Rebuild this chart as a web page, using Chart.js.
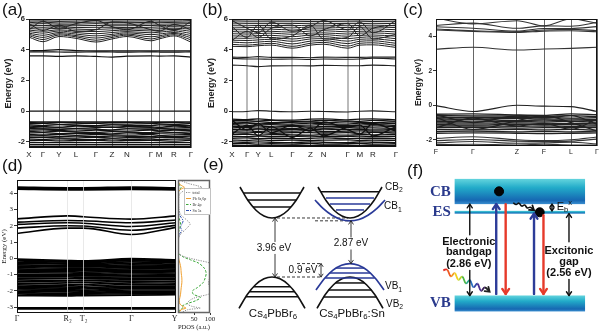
<!DOCTYPE html>
<html>
<head>
<meta charset="utf-8">
<script src="https://cdn.jsdelivr.net/npm/chart.js@4.4.1/dist/chart.umd.min.js"></script>
<style>
html,body{margin:0;padding:0;background:#fff}
body{position:relative;width:600px;height:332px;overflow:hidden}
canvas{position:absolute;display:block}
.tag{position:absolute;font:17px/17px 'Liberation Sans',Arial,sans-serif;color:#111}
</style>
</head>
<body>
<canvas id="ca" width="200" height="165" style="left:0;top:0"></canvas>
<canvas id="cb" width="200" height="165" style="left:200px;top:0"></canvas>
<canvas id="cc" width="200" height="165" style="left:400px;top:0"></canvas>
<canvas id="cd" width="178" height="167" style="left:0;top:165px"></canvas>
<canvas id="cp" width="40" height="167" style="left:176px;top:165px"></canvas>
<canvas id="ce" width="205" height="182" style="left:200px;top:150px"></canvas>
<canvas id="cf" width="200" height="182" style="left:400px;top:150px"></canvas>
<div class="tag" style="left:2px;top:1px">(a)</div>
<div class="tag" style="left:202px;top:1px">(b)</div>
<div class="tag" style="left:403px;top:1px">(c)</div>
<div class="tag" style="left:2px;top:157px">(d)</div>
<div class="tag" style="left:203px;top:156px">(e)</div>
<div class="tag" style="left:407px;top:162px">(f)</div>
<script>
const SANS = "'Liberation Sans', Arial, sans-serif";
const SERIF = "'Liberation Serif', 'Times New Roman', serif";
Chart.defaults.font.family = SANS;
Chart.defaults.animation = false;
Chart.defaults.events = [];
Chart.defaults.plugins.legend.display = false;
Chart.defaults.plugins.tooltip.enabled = false;

// ---------------- (a) Cs4PbBr6 band structure ----------------
const kA = [0, 14, 30, 47, 67, 83, 98, 122, 130, 145, 162];
const kLabelsA = ['X','Γ','Y','L','Γ','Z','N','Γ','M','R','Γ'];
const aUpper = [
  [4.82,4.52,4.86,4.74,4.50,4.70,4.86,4.58,4.70,4.90,4.50],
  [4.92,4.66,4.96,4.84,4.62,4.80,4.95,4.70,4.80,4.98,4.64],
  [5.00,4.80,5.04,4.92,4.76,4.90,5.02,4.84,4.90,5.06,4.78],
  [5.08,4.94,5.12,5.02,4.90,5.00,5.10,4.98,5.02,5.12,4.92],
  [5.18,5.08,5.22,5.12,5.04,5.12,5.18,5.10,5.14,5.22,5.06],
  [5.28,5.20,5.30,5.22,5.18,5.24,5.28,5.22,5.26,5.32,5.20],
  [5.38,5.34,5.40,5.34,5.32,5.36,5.36,5.34,5.36,5.40,5.34],
  [5.48,5.46,5.50,5.44,5.46,5.46,5.44,5.46,5.48,5.50,5.46],
  [5.58,5.58,5.56,5.56,5.58,5.56,5.56,5.58,5.56,5.60,5.58],
  [5.66,5.70,5.66,5.66,5.70,5.66,5.66,5.68,5.66,5.68,5.70],
  [5.76,5.80,5.74,5.76,5.80,5.76,5.76,5.78,5.76,5.78,5.80],
  [5.86,5.88,5.84,5.86,5.90,5.86,5.86,5.88,5.86,5.86,5.90],
  [5.95,5.96,5.94,5.95,5.98,5.95,5.95,5.96,5.95,5.95,5.98],
  [5.30,5.85,5.40,5.70,5.90,5.50,5.30,5.85,5.60,5.25,5.85],
  [5.70,5.25,5.60,5.20,5.30,5.80,5.75,5.30,5.20,5.65,5.30]
];
const aMid = [
  [3.93,3.95,4.00,3.94,3.92,3.93,3.92,3.93,3.92,3.93,3.92],
  [3.85,3.86,3.85,3.84,3.86,3.85,3.84,3.86,3.85,3.84,3.86],
  [3.60,3.60,3.57,3.60,3.56,3.52,3.58,3.60,3.58,3.60,3.52]
];
const aTop = [
  [0,0,0,0,0,0,0,0,0,0,0]
];
const aValence = [
  [-0.70,-0.70,-0.70,-0.70,-0.70,-0.70,-0.70,-0.70,-0.70,-0.70,-0.70],
  [-0.74,-0.76,-0.73,-0.75,-0.77,-0.74,-0.73,-0.76,-0.75,-0.74,-0.77],
  [-0.82,-0.80,-0.86,-0.83,-0.80,-0.85,-0.84,-0.81,-0.83,-0.86,-0.80],
  [-0.90,-0.94,-0.88,-0.92,-0.95,-0.90,-0.93,-0.95,-0.90,-0.92,-0.94],
  [-0.98,-1.00,-1.04,-0.97,-1.02,-1.05,-0.99,-1.02,-1.05,-0.98,-1.03],
  [-1.06,-1.10,-1.08,-1.12,-1.08,-1.04,-1.10,-1.08,-1.12,-1.10,-1.07],
  [-1.14,-1.16,-1.20,-1.15,-1.18,-1.22,-1.16,-1.18,-1.15,-1.20,-1.17],
  [-1.24,-1.22,-1.26,-1.30,-1.24,-1.28,-1.30,-1.24,-1.28,-1.24,-1.27],
  [-1.32,-1.36,-1.30,-1.36,-1.38,-1.34,-1.36,-1.40,-1.34,-1.38,-1.35],
  [-1.42,-1.40,-1.46,-1.44,-1.44,-1.48,-1.42,-1.46,-1.44,-1.42,-1.46],
  [-1.52,-1.55,-1.52,-1.58,-1.52,-1.54,-1.56,-1.52,-1.58,-1.54,-1.53],
  [-1.62,-1.60,-1.66,-1.62,-1.66,-1.62,-1.64,-1.66,-1.62,-1.66,-1.62],
  [-1.72,-1.70,-1.74,-1.76,-1.70,-1.76,-1.72,-1.74,-1.72,-1.70,-1.76],
  [-1.82,-1.84,-1.80,-1.84,-1.86,-1.80,-1.84,-1.82,-1.86,-1.82,-1.82],
  [-1.92,-1.90,-1.94,-1.92,-1.90,-1.94,-1.92,-1.90,-1.92,-1.95,-1.90]
];
const aDeep = [
  [-2.05,-2.05,-2.05,-2.05,-2.05,-2.05,-2.05,-2.05,-2.05,-2.05,-2.05],
  [-2.18,-2.18,-2.18,-2.18,-2.18,-2.18,-2.18,-2.18,-2.18,-2.18,-2.18],
  [-2.30,-2.30,-2.30,-2.30,-2.30,-2.30,-2.30,-2.30,-2.30,-2.30,-2.30]
];

// ---------------- (b) Cs4PbBr6:Sn band structure ----------------
const kB = [0, 15, 26, 39, 60, 78, 91, 115, 127, 140, 163];
const kLabelsB = ['X','Γ','Y','L','Γ','Z','N','Γ','M','R','Γ'];
const bUpper = [
  [4.22,4.20,4.26,4.30,4.10,4.30,4.36,4.10,4.30,4.32,4.15],
  [4.35,4.30,4.36,4.42,4.22,4.42,4.48,4.24,4.42,4.45,4.28],
  [4.50,4.45,4.50,4.55,4.38,4.56,4.60,4.40,4.55,4.58,4.42],
  [4.62,4.60,4.64,4.68,4.55,4.70,4.72,4.56,4.68,4.70,4.58],
  [4.76,4.74,4.78,4.80,4.70,4.82,4.85,4.72,4.80,4.84,4.72],
  [4.90,4.88,4.92,4.94,4.85,4.96,4.98,4.88,4.94,4.96,4.88],
  [5.04,5.02,5.05,5.08,5.00,5.08,5.10,5.02,5.08,5.10,5.02],
  [5.18,5.15,5.20,5.20,5.14,5.22,5.24,5.16,5.20,5.22,5.16],
  [5.30,5.30,5.32,5.34,5.28,5.35,5.36,5.30,5.34,5.36,5.30],
  [5.42,5.44,5.46,5.46,5.42,5.48,5.48,5.44,5.46,5.48,5.44],
  [5.56,5.56,5.58,5.58,5.56,5.60,5.60,5.56,5.58,5.60,5.56],
  [5.68,5.70,5.70,5.70,5.70,5.72,5.72,5.70,5.70,5.72,5.70],
  [5.80,5.82,5.82,5.82,5.82,5.84,5.84,5.82,5.82,5.84,5.82],
  [5.92,5.94,5.94,5.93,5.94,5.95,5.95,5.94,5.93,5.95,5.94],
  [4.60,5.20,4.80,5.40,5.60,4.90,5.30,5.70,4.90,5.40,5.60],
  [5.50,4.80,5.60,4.70,4.90,5.60,4.70,4.80,5.50,4.70,5.00],
  [5.90,5.40,5.10,5.80,5.20,5.50,5.90,5.30,5.80,5.10,5.90]
];
const bMid = [
  [3.52,3.50,3.55,3.50,3.50,3.48,3.52,3.50,3.50,3.52,3.52],
  [3.44,3.40,3.40,3.38,3.40,3.36,3.40,3.38,3.40,3.45,3.40],
  [3.00,2.96,2.90,2.95,2.96,2.95,2.98,2.96,2.96,3.00,2.95]
];
const bTop = [
  [-0.04,-0.02,0.04,0.00,-0.04,0.00,-0.02,-0.05,0.00,0.02,-0.04]
];
const bValence = [
  [-0.52,-0.55,-0.50,-0.56,-0.58,-0.52,-0.50,-0.56,-0.52,-0.50,-0.56],
  [-0.60,-0.62,-0.64,-0.60,-0.66,-0.64,-0.60,-0.64,-0.66,-0.60,-0.64],
  [-0.70,-0.72,-0.68,-0.74,-0.72,-0.70,-0.74,-0.70,-0.72,-0.74,-0.70],
  [-0.80,-0.78,-0.82,-0.80,-0.84,-0.78,-0.82,-0.84,-0.78,-0.82,-0.80],
  [-0.88,-0.92,-0.90,-0.88,-0.92,-0.90,-0.88,-0.92,-0.90,-0.88,-0.92],
  [-0.98,-1.00,-0.96,-1.02,-0.98,-1.02,-1.00,-0.98,-1.02,-0.96,-1.00],
  [-1.08,-1.06,-1.10,-1.08,-1.12,-1.08,-1.10,-1.06,-1.10,-1.08,-1.12],
  [-1.18,-1.20,-1.16,-1.20,-1.18,-1.22,-1.16,-1.20,-1.18,-1.22,-1.18],
  [-1.30,-1.28,-1.32,-1.28,-1.30,-1.26,-1.32,-1.30,-1.28,-1.30,-1.30],
  [-1.40,-1.42,-1.38,-1.44,-1.40,-1.40,-1.42,-1.40,-1.44,-1.38,-1.42],
  [-1.52,-1.50,-1.56,-1.52,-1.54,-1.56,-1.52,-1.56,-1.52,-1.54,-1.52],
  [-1.64,-1.66,-1.62,-1.66,-1.64,-1.62,-1.66,-1.64,-1.62,-1.66,-1.64],
  [-1.76,-1.74,-1.78,-1.76,-1.78,-1.76,-1.74,-1.78,-1.76,-1.76,-1.78],
  [-1.88,-1.90,-1.86,-1.90,-1.88,-1.90,-1.88,-1.86,-1.90,-1.88,-1.90],
  [-0.60,-1.20,-0.80,-1.40,-0.90,-1.30,-0.70,-1.20,-1.50,-0.80,-1.30],
  [-1.50,-0.90,-1.60,-1.00,-1.70,-1.10,-1.60,-1.00,-0.90,-1.60,-1.00]
];
const bDeep = [
  [-2.00,-2.02,-2.00,-2.02,-2.04,-2.00,-2.02,-2.04,-2.00,-2.02,-2.04],
  [-2.12,-2.10,-2.14,-2.12,-2.14,-2.10,-2.14,-2.12,-2.10,-2.14,-2.12],
  [-2.22,-2.22,-2.22,-2.22,-2.22,-2.22,-2.22,-2.22,-2.22,-2.22,-2.22]
];

// ---------------- (c) band structure along F-Γ-Z-F-L-Γ ----------------
const kC = [0, 37, 81, 108, 135, 161];
const kLabelsC = ['F','Γ','Z','F','L','Γ'];
const cUpper = [
  [5.05,4.72,4.90,4.60,5.02,4.75],
  [4.62,4.76,4.46,4.60,4.58,4.80],
  [4.55,4.46,4.30,4.45,4.45,4.56],
  [4.42,4.32,4.26,4.36,4.40,4.32],
  [4.36,4.28,4.22,4.30,4.32,4.26],
  [3.25,3.36,3.20,3.26,3.30,3.36]
];
const cTop = [
  [-0.02,-0.36,0.00,-0.05,-0.08,-0.36]
];
const cValence = [
  [-0.52,-0.50,-0.56,-0.58,-0.50,-0.55],
  [-0.60,-0.62,-0.62,-0.64,-0.60,-0.66],
  [-0.68,-0.72,-0.70,-0.70,-0.74,-0.72],
  [-0.78,-0.80,-0.76,-0.80,-0.80,-0.82],
  [-0.86,-0.84,-0.88,-0.86,-0.90,-0.88],
  [-0.94,-0.96,-0.94,-0.96,-0.94,-0.98],
  [-1.02,-1.04,-1.02,-1.04,-1.06,-1.04],
  [-1.10,-1.14,-1.10,-1.12,-1.12,-1.14],
  [-1.20,-1.20,-1.22,-1.20,-1.22,-1.20],
  [-1.30,-1.28,-1.32,-1.30,-1.30,-1.30],
  [-1.40,-1.42,-1.40,-1.42,-1.40,-1.44],
  [-1.52,-1.50,-1.54,-1.52,-1.54,-1.50],
  [-1.62,-1.60,-1.62,-1.64,-1.62,-1.60],
  [-0.55,-1.00,-0.62,-0.75,-0.60,-1.10],
  [-1.30,-0.75,-1.20,-1.05,-1.40,-0.80],
  [-0.70,-1.40,-0.90,-0.60,-1.00,-1.50]
];
const cDeep = [
  [-1.92,-1.82,-2.00,-2.05,-2.00,-1.84],
  [-2.05,-1.98,-2.08,-2.10,-2.08,-1.96],
  [-2.18,-2.10,-2.20,-2.18,-2.14,-2.24],
  [-2.28,-2.26,-2.30,-2.26,-2.30,-2.30]
];

// ---------------- (d) band structure + PDOS ----------------
const kD = [0, 51, 67, 115, 160];
const kLabelsD = ['Γ','R₂','T₂','Γ','Y₂'];
const dHigh = [
  [4.36,4.32,4.32,4.36,4.32],
  [4.30,4.26,4.26,4.30,4.26],
  [4.24,4.20,4.20,4.22,4.20]
];
const dCond = [
  [2.42,2.60,2.55,2.40,2.60],
  [2.22,2.32,2.30,2.18,2.35],
  [2.08,2.18,2.15,1.95,2.18],
  [1.85,2.00,1.98,1.72,2.02],
  [1.52,1.85,1.85,1.46,1.90]
];
const dValence = [
  [-0.04,-0.14,-0.16,-0.02,-0.10],
  [-0.10,-0.20,-0.22,-0.08,-0.16],
  [-0.16,-0.24,-0.26,-0.14,-0.22],
  [-0.24,-0.30,-0.34,-0.22,-0.28],
  [-0.32,-0.36,-0.40,-0.30,-0.36],
  [-0.40,-0.44,-0.46,-0.40,-0.42],
  [-0.48,-0.52,-0.52,-0.48,-0.50],
  [-0.56,-0.60,-0.60,-0.56,-0.58],
  [-0.64,-0.68,-0.68,-0.64,-0.66],
  [-0.72,-0.74,-0.76,-0.72,-0.74],
  [-0.80,-0.82,-0.84,-0.80,-0.82],
  [-0.88,-0.90,-0.92,-0.88,-0.90],
  [-0.98,-0.98,-1.00,-0.96,-0.98],
  [-1.06,-1.06,-1.08,-1.04,-1.06],
  [-1.14,-1.14,-1.16,-1.14,-1.14],
  [-1.22,-1.24,-1.26,-1.22,-1.22],
  [-1.32,-1.36,-1.38,-1.30,-1.32],
  [-1.42,-1.46,-1.48,-1.40,-1.42],
  [-1.52,-1.58,-1.60,-1.50,-1.52],
  [-1.62,-1.68,-1.70,-1.60,-1.62],
  [-1.70,-1.76,-1.80,-1.70,-1.70],
  [-1.78,-1.84,-1.88,-1.78,-1.78],
  [-1.86,-1.92,-1.96,-1.86,-1.86],
  [-1.94,-1.98,-2.02,-1.94,-1.94],
  [-2.02,-2.06,-2.08,-2.02,-2.02],
  [-2.10,-2.14,-2.14,-2.10,-2.10],
  [-2.18,-2.22,-2.20,-2.18,-2.16],
  [-2.28,-2.30,-2.28,-2.26,-2.22]
];
const dDeep = [
  [-3.04,-3.04,-3.04,-3.04,-3.04],
  [-3.09,-3.09,-3.09,-3.09,-3.09]
];
const pdosE     = [4.8,4.6,4.45,4.35,4.25,4.1,3.9,3.5,3.0,2.7,2.5,2.3,2.1,1.9,1.7,1.5,1.2,0.6,0.3,0.1,-0.1,-0.3,-0.6,-0.9,-1.2,-1.5,-1.8,-2.0,-2.2,-2.4,-2.6,-2.8,-2.95,-3.05,-3.15,-3.35];
const pdosTotal = [5,30,60,75,50,15,4,2,3,8,18,30,38,30,20,8,2,0,2,20,60,100,115,110,100,95,100,110,95,55,35,30,45,70,30,8];
const pdosPb    = [0,3,12,20,10,2,0,0,0,0,1,2,2,1,0,0,0,0,0,1,3,6,9,10,12,12,10,9,8,6,4,6,15,25,10,2];
const pdosBr    = [0,2,6,10,6,2,0,0,0,1,3,6,8,6,3,1,0,0,2,15,40,65,82,88,85,78,60,45,48,70,55,25,12,15,6,1];
const pdosSn    = [0,0,0,0,0,0,0,0,1,4,10,16,12,8,12,5,1,0,0,0,0,0,0,0,0,0,0,0,0,0,0,0,0,0,0,0];

// ---------------- (e) band alignment sketch ----------------
const gapHost = 3.96;   // Cs4PbBr6 gap
const gapDoped = 2.87;  // CB1 - VB1 in Cs4PbBr6:Sn
const vbShift = 0.9;    // VB1 above VB2
const cbBlackShape = [[-32,2.08],[-24,1.17],[-16,0.52],[-8,0.13],[0,0],[8,0.13],[16,0.52],[24,1.17],[32,2.08]];
const cbBlueShape  = [[-35,1.40],[-27,0.83],[-18,0.37],[-9,0.09],[0,0],[9,0.09],[18,0.37],[27,0.83],[35,1.40]];
const vbBlackShape = [[-33,-2.10],[-24.5,-1.16],[-16.5,-0.52],[-8,-0.12],[0,0],[8,-0.12],[16.5,-0.52],[24.5,-1.16],[33,-2.10]];
const vbBlueShape  = [[-34,-1.77],[-25.5,-1.00],[-17,-0.44],[-8.5,-0.11],[0,0],[8.5,-0.11],[17,-0.44],[25.5,-1.00],[34,-1.77]];
const hostCbRungs  = [[28.8,1.68],[24.4,1.21],[19.1,0.74]];
const hostVbRungs  = [[18.3,-0.65],[22.5,-0.99],[26.0,-1.32]];
const cb2Rungs     = [[29.0,1.76]];
const cb1Rungs     = [[24.0,1.53],[20.0,1.13],[14.0,0.73]];
const vb1Rungs     = [[14.0,-0.30],[20.3,-0.63],[24.7,-0.97]];
const vb2Rungs     = [[14.5,-0.40],[21.4,-0.87],[26.6,-1.34]];

// ---------------- (f) exciton level scheme ----------------
const bandgapF = 2.86;
const excitonGapF = 2.56;
const cbTopF = 3.65;
const esTopF = 2.65;
const vbBottomF = -0.5;
const rainbowPath = [[40,0.79],[44,0.81],[48,0.60],[52,0.70],[56,0.49],[60,0.59],[64,0.38],[68,0.48],[72,0.26],[76,0.37],[80,0.15],[84,0.25],[89,0.12]];
const rainbowColors = ['#e3261f','#ef5a22','#f39a1e','#f2d21c','#b9d531','#4fb848','#2aa58a','#2a70c0','#3446a6','#4a2f90','#3a1f5a','#222'];
const relaxPath = [[114,2.90],[117,2.85],[120,2.89],[123,2.80],[126,2.83],[129,2.74],[132,2.76],[136,2.67]];
const carriers = [[99,3.26],[142,2.605]];

// ---------------- helpers ----------------
const frame = {
  id: 'frame',
  afterDraw(chart, args, o) {
    const a = chart.chartArea, c = chart.ctx;
    c.save();
    c.strokeStyle = o.color || '#000';
    c.lineWidth = o.width || 1;
    c.strokeRect(Math.round(a.left) + 0.5, Math.round(a.top) + 0.5,
                 Math.round(a.right - a.left) - 1, Math.round(a.bottom - a.top) - 1);
    c.restore();
  }
};

function bandChart(id, p) {
  const datasets = [];
  p.groups.forEach(g => g.bands.forEach(b => datasets.push({
    data: b.map((e, i) => ({ x: p.k[i], y: e })),
    borderColor: g.color, borderWidth: g.width,
    pointRadius: 0, tension: 0.4, cubicInterpolationMode: 'monotone', clip: 0
  })));
  return new Chart(document.getElementById(id), {
    type: 'line',
    data: { datasets },
    plugins: [frame],
    options: {
      responsive: false,
      layout: { padding: p.pad },
      scales: {
        x: {
          type: 'linear', min: 0, max: p.k[p.k.length - 1],
          afterBuildTicks: s => { s.ticks = p.k.map(v => ({ value: v })); },
          afterFit: s => { s.height = p.xh; s.paddingLeft = 0; s.paddingRight = 0; },
          ticks: { autoSkip: false, maxRotation: 0, padding: p.xpad, font: p.xfont, color: '#222',
                   callback: (v, i) => p.labels[i] },
          grid: { z: p.gridZ, drawTicks: false,
                  color: c => p.gridColor(p.labels[c.index], c.index),
                  lineWidth: c => p.gridWidth(p.labels[c.index], c.index) },
          border: { display: false }
        },
        y: {
          min: p.ymin, max: p.ymax,
          afterBuildTicks: s => { s.ticks = p.yticks.map(v => ({ value: v })); },
          afterFit: s => { s.width = p.yw; s.paddingTop = 0; s.paddingBottom = 0; },
          ticks: { padding: 1, font: p.yfont, color: '#222' },
          grid: { drawOnChartArea: false, tickLength: 3, color: '#333' },
          border: { display: false },
          title: { display: true, text: 'Energy (eV)', font: p.tfont, color: '#222', padding: { top: p.tpad, bottom: 0 } }
        }
      },
      plugins: { frame: { color: '#111' } }
    }
  });
}

function arrowHead(ctx, tx, ty, ux, uy, size, spread) {
  const a = spread || 0.6;
  const c = Math.cos(a), s = Math.sin(a);
  const bx = -ux, by = -uy;
  ctx.beginPath();
  ctx.moveTo(tx + size * (bx * c - by * s), ty + size * (bx * s + by * c));
  ctx.lineTo(tx, ty);
  ctx.lineTo(tx + size * (bx * c + by * s), ty + size * (-bx * s + by * c));
  ctx.stroke();
}

function vArrow(ctx, x, yFrom, yTo, both, size, color, lw) {
  ctx.save();
  ctx.strokeStyle = color; ctx.lineWidth = lw; ctx.lineCap = 'round'; ctx.lineJoin = 'round';
  ctx.beginPath(); ctx.moveTo(x, yFrom); ctx.lineTo(x, yTo); ctx.stroke();
  const d = yTo > yFrom ? 1 : -1;
  arrowHead(ctx, x, yTo, 0, d, size);
  if (both) arrowHead(ctx, x, yFrom, 0, -d, size);
  ctx.restore();
}

// text with "_x" subscripts and "^x" superscripts
function rich(ctx, str, x, y, size, family, weight, align, color, bg) {
  const parts = [];
  for (let i = 0; i < str.length; i++) {
    const ch = str[i];
    if ((ch === '_' || ch === '^') && i + 1 < str.length) { parts.push([str[i + 1], ch === '_' ? 'sub' : 'sup']); i++; }
    else if (parts.length && parts[parts.length - 1][1] === '') parts[parts.length - 1][0] += ch;
    else parts.push([ch, '']);
  }
  const fontOf = m => weight + ' ' + (m ? Math.round(size * 0.68 * 10) / 10 : size) + 'px ' + family;
  ctx.save();
  ctx.textBaseline = 'middle';
  let w = 0;
  parts.forEach(p => { ctx.font = fontOf(p[1]); p.w = ctx.measureText(p[0]).width; w += p.w; });
  let cx = align === 'center' ? x - w / 2 : align === 'right' ? x - w : x;
  if (bg) { ctx.fillStyle = bg; ctx.fillRect(cx - 2, y - size * 0.6, w + 4, size * 1.2); }
  ctx.fillStyle = color;
  parts.forEach(p => {
    ctx.font = fontOf(p[1]);
    const dy = p[1] === 'sub' ? size * 0.3 : p[1] === 'sup' ? -size * 0.38 : 0;
    ctx.fillText(p[0], cx, y + dy);
    cx += p.w;
  });
  ctx.restore();
}

// ---------------- panels (a)-(c) ----------------
const titleBold = { size: 9, weight: 'bold', family: SANS };
const tickBold = { size: 7.5, weight: 'bold', family: SANS };

bandChart('ca', {
  k: kA, labels: kLabelsA,
  groups: [
    { bands: aUpper, color: '#222', width: 1 },
    { bands: aMid, color: '#111', width: 1.2 },
    { bands: aTop, color: '#111', width: 1.2 },
    { bands: aValence, color: '#111', width: 1.3 },
    { bands: aDeep, color: '#111', width: 1.3 }
  ],
  ymin: -2.4, ymax: 6, yticks: [-2, 0, 2, 4, 6],
  yw: 29, xh: 17, pad: { top: 19, right: 9, left: 0, bottom: 0 },
  xpad: 2, xfont: { size: 8, family: SANS }, yfont: tickBold, tfont: titleBold, tpad: 3,
  gridZ: 0, gridColor: () => '#777', gridWidth: () => 1
});

bandChart('cb', {
  k: kB, labels: kLabelsB,
  groups: [
    { bands: bUpper, color: '#222', width: 1 },
    { bands: bMid, color: '#222', width: 1.1 },
    { bands: bTop, color: '#222', width: 1.1 },
    { bands: bValence, color: '#111', width: 1.3 },
    { bands: bDeep, color: '#111', width: 1.3 }
  ],
  ymin: -2.33, ymax: 6, yticks: [-2, 0, 2, 4, 6],
  yw: 32, xh: 18, pad: { top: 19, right: 4, left: 0, bottom: 0 },
  xpad: 3, xfont: { size: 8, family: SANS }, yfont: tickBold, tfont: titleBold, tpad: 6,
  gridZ: 0,
  gridColor: l => l === 'Γ' ? '#bbb' : '#444',
  gridWidth: l => l === 'Γ' ? 2 : 1
});

bandChart('cc', {
  k: kC, labels: kLabelsC,
  groups: [
    { bands: cUpper, color: '#333', width: 1.1 },
    { bands: cTop, color: '#222', width: 1.1 },
    { bands: cValence, color: '#222', width: 1.3 },
    { bands: cDeep, color: '#333', width: 1.1 }
  ],
  ymin: -2.36, ymax: 5, yticks: [-2, 0, 2, 4],
  yw: 36, xh: 19, pad: { top: 19, right: 3, left: 0, bottom: 0 },
  xpad: 2, xfont: { size: 7, family: SANS }, yfont: { size: 6.5, weight: 'bold', family: SANS },
  tfont: { size: 8.5, weight: 'bold', family: SANS }, tpad: 14,
  gridZ: 0, gridColor: () => '#666', gridWidth: () => 1
});

// ---------------- panel (d) ----------------
bandChart('cd', {
  k: kD, labels: kLabelsD,
  groups: [
    { bands: dHigh, color: '#000', width: 1.8 },
    { bands: dCond, color: '#000', width: 1.6 },
    { bands: dValence, color: '#000', width: 1.7 },
    { bands: dDeep, color: '#000', width: 1.8 }
  ],
  ymin: -3.35, ymax: 4.8, yticks: [-3, -2, -1, 0, 1, 2, 3, 4],
  yw: 17, xh: 19, pad: { top: 15, right: 2, left: 0, bottom: 0 },
  xpad: 1, xfont: { size: 8, family: SERIF }, yfont: { size: 7, family: SERIF },
  tfont: { size: 7, family: SERIF }, tpad: 0,
  gridZ: 1, gridColor: () => 'rgba(225,225,225,0.75)', gridWidth: () => 1
});

const pdosLegend = {
  id: 'pdosLegend',
  afterDraw(chart) {
    const ctx = chart.ctx, a = chart.chartArea;
    const x0 = a.left + 6, y0 = a.top + 8;
    ctx.save();
    ctx.fillStyle = '#fff'; ctx.strokeStyle = '#999'; ctx.lineWidth = 0.6;
    ctx.fillRect(x0, y0, 27, 27); ctx.strokeRect(x0 + 0.5, y0 + 0.5, 26, 26);
    chart.data.datasets.forEach((d, i) => {
      const yy = y0 + 4.5 + i * 6;
      ctx.strokeStyle = d.borderColor; ctx.lineWidth = 1; ctx.setLineDash(d.borderDash || []);
      ctx.beginPath(); ctx.moveTo(x0 + 2, yy); ctx.lineTo(x0 + 7, yy); ctx.stroke();
      ctx.setLineDash([]);
      ctx.fillStyle = '#333'; ctx.font = '4px ' + SERIF; ctx.textBaseline = 'middle';
      ctx.fillText(d.label, x0 + 8.5, yy);
    });
    ctx.restore();
  }
};
const pdosSeries = [
  { label: 'total', values: pdosTotal, color: '#8c8c8c', dash: [1.2, 1.2] },
  { label: 'Pb 6s,6p', values: pdosPb, color: '#f0a030', dash: [] },
  { label: 'Br 4p', values: pdosBr, color: '#3aa838', dash: [2.5, 1.5] },
  { label: 'Sn 5s', values: pdosSn, color: '#3050b0', dash: [3, 1, 1, 1] }
];
new Chart(document.getElementById('cp'), {
  type: 'scatter',
  data: {
    datasets: pdosSeries.map(s => ({
      label: s.label,
      data: s.values.map((v, i) => ({ x: v, y: pdosE[i] })),
      showLine: true, borderColor: s.color, borderWidth: 1, borderDash: s.dash,
      pointRadius: 0, tension: 0.3, clip: 0
    }))
  },
  plugins: [frame, pdosLegend],
  options: {
    responsive: false,
    layout: { padding: { top: 15, left: 2, right: 6, bottom: 0 } },
    scales: {
      x: {
        type: 'linear', min: 0, max: 100,
        afterBuildTicks: s => { s.ticks = [50, 100].map(v => ({ value: v })); },
        afterFit: s => { s.height = 19; s.paddingLeft = 0; s.paddingRight = 0; },
        ticks: { padding: 0, font: { size: 7, family: SERIF }, color: '#222', maxRotation: 0 },
        grid: { drawOnChartArea: false, tickLength: 2, color: '#333' },
        border: { display: false },
        title: { display: true, text: 'PDOS (a.u.)', font: { size: 7, family: SERIF }, color: '#222', padding: { top: 0, bottom: 1 } }
      },
      y: { display: false, min: -3.35, max: 4.8 }
    },
    plugins: { frame: { color: '#666', width: 1.5 } }
  }
});

// ---------------- panel (e) ----------------
const HOST_X = 72, DOPED_X = 150;
const curve = (shape, cx, e0) => shape.map(([dx, de]) => ({ x: cx + dx, y: e0 + de }));
const rungs = (list, cx, e0) => list.map(([hw, de]) => [{ x: cx - hw, y: e0 + de }, { x: cx + hw, y: e0 + de }]);
const cb1Level = vbShift + gapDoped;
const BLUE_E = '#2a3a98';
const eSets = [];
function addE(points, color, width, dash, smooth) {
  eSets.push({ data: points, showLine: true, borderColor: color, borderWidth: width, borderDash: dash || [],
    pointRadius: 0, tension: 0, cubicInterpolationMode: smooth ? 'monotone' : 'default', clip: false });
}
rungs(hostCbRungs, HOST_X, gapHost).forEach(r => addE(r, '#111', 1.5));
rungs(hostVbRungs, HOST_X, 0).forEach(r => addE(r, '#111', 1.5));
rungs(cb2Rungs, DOPED_X, gapHost).forEach(r => addE(r, '#111', 1.5));
rungs(cb1Rungs, DOPED_X, cb1Level).forEach(r => addE(r, BLUE_E, 1.5));
rungs(vb2Rungs, DOPED_X, 0).forEach(r => addE(r, '#111', 1.5));
rungs(vb1Rungs, DOPED_X, vbShift).forEach(r => addE(r, BLUE_E, 1.5));
addE(curve(cbBlackShape, HOST_X, gapHost), '#111', 1.6, null, true);
addE(curve(vbBlackShape, HOST_X, 0), '#111', 1.6, null, true);
addE(curve(cbBlackShape, DOPED_X, gapHost), '#111', 1.6, null, true);
addE(curve(vbBlackShape, DOPED_X, 0), '#111', 1.6, null, true);
addE(curve(cbBlueShape, DOPED_X, cb1Level), BLUE_E, 1.7, null, true);
addE(curve(vbBlueShape, DOPED_X, vbShift), BLUE_E, 1.7, null, true);
addE([{ x: 77, y: gapHost }, { x: 148, y: gapHost }], '#222', 0.9, [3, 2]);
addE([{ x: 115, y: cb1Level }, { x: 148, y: cb1Level }], '#222', 0.9, [3, 2]);
addE([{ x: 77, y: 0 }, { x: 120, y: 0 }], '#222', 0.9, [3, 2]);
addE([{ x: 97, y: vbShift }, { x: 120, y: vbShift }], '#222', 0.9, [3, 2]);

const sketchE = {
  id: 'sketchE',
  afterDatasetsDraw(chart) {
    const { ctx, scales: { x, y } } = chart;
    const X = v => x.getPixelForValue(v), Y = v => y.getPixelForValue(v);
    vArrow(ctx, X(75), Y(0), Y(gapHost), true, 4, '#222', 0.9);
    vArrow(ctx, X(151), Y(vbShift), Y(cb1Level), true, 4, '#222', 0.9);
    vArrow(ctx, X(121), Y(0), Y(vbShift), true, 3.5, '#222', 0.9);
    rich(ctx, gapHost.toFixed(2) + ' eV', X(74), Y(1.95), 10, SANS, 'normal', 'center', '#111', '#fff');
    rich(ctx, gapDoped.toFixed(2) + ' eV', X(151), Y(2.25), 10, SANS, 'normal', 'center', '#111', '#fff');
    rich(ctx, vbShift.toFixed(1) + ' eV', X(103), Y(0.47), 10, SANS, 'normal', 'center', '#111');
    rich(ctx, 'CB_2', X(185), Y(6.0), 10, SANS, 'normal', 'left', '#111');
    rich(ctx, 'CB_1', X(184), Y(4.72), 10, SANS, 'normal', 'left', '#111');
    rich(ctx, 'VB_1', X(185), Y(-0.65), 10, SANS, 'normal', 'left', '#111');
    rich(ctx, 'VB_2', X(186), Y(-1.8), 10, SANS, 'normal', 'left', '#111');
    rich(ctx, 'Cs_4PbBr_6', X(73), Y(-2.45), 11.5, SANS, 'normal', 'center', '#111');
    rich(ctx, 'Cs_4PbBr_6:Sn', X(152), Y(-2.45), 11.5, SANS, 'normal', 'center', '#111');
  }
};
new Chart(document.getElementById('ce'), {
  type: 'scatter',
  data: { datasets: eSets },
  plugins: [sketchE],
  options: {
    responsive: false,
    layout: { padding: 0 },
    scales: {
      x: { type: 'linear', display: false, min: 0, max: 205 },
      y: { type: 'linear', display: false, min: -3.691, max: 8.523 }
    }
  }
});

// ---------------- panel (f) ----------------
const BLUE_F = '#2d3c98', RED_F = '#e63a2a';
const sketchF = {
  id: 'sketchF',
  beforeDatasetsDraw(chart) {
    const { ctx, scales: { x, y } } = chart;
    const X = v => x.getPixelForValue(v), Y = v => y.getPixelForValue(v);
    const x0 = X(52), x1 = X(190);
    [[bandgapF, cbTopF], [excitonGapF, esTopF], [vbBottomF, 0]].forEach(([lo, hi]) => {
      const y0 = Y(hi), y1 = Y(lo);
      const g = ctx.createLinearGradient(0, y0, 0, y1);
      g.addColorStop(0, '#63d4dd');
      g.addColorStop(0.35, '#22abc9');
      g.addColorStop(0.85, '#1667b2');
      g.addColorStop(1, '#3b8fd0');
      ctx.fillStyle = g;
      ctx.fillRect(x0, y0, x1 - x0, y1 - y0);
    });
  },
  afterDatasetsDraw(chart) {
    const { ctx, scales: { x, y } } = chart;
    const X = v => x.getPixelForValue(v), Y = v => y.getPixelForValue(v);
    // optical transitions
    vArrow(ctx, X(96), Y(0.05), Y(bandgapF), false, 6, BLUE_F, 2.4);
    vArrow(ctx, X(106), Y(bandgapF), Y(0.05), false, 6, RED_F, 2.4);
    vArrow(ctx, X(136), Y(0.05), Y(excitonGapF), false, 6, BLUE_F, 2.4);
    vArrow(ctx, X(146), Y(excitonGapF - 0.05), Y(0.05), false, 6, RED_F, 2.4);
    // gap markers
    vArrow(ctx, X(68), Y(1.9), Y(bandgapF), false, 4.5, '#111', 1.4);
    vArrow(ctx, X(68), Y(0.78), Y(0), false, 4.5, '#111', 1.4);
    vArrow(ctx, X(173), Y(1.68), Y(excitonGapF), false, 4.5, '#111', 1.4);
    vArrow(ctx, X(173), Y(0.5), Y(0), false, 4.5, '#111', 1.4);
    vArrow(ctx, X(155), Y(esTopF), Y(bandgapF), true, 3.5, '#111', 1.4);
    // wavy arrow heads
    [[rainbowPath, '#222'], [relaxPath, '#111']].forEach(([path, col]) => {
      const p = path[path.length - 1], q = path[path.length - 2];
      const tx = X(p[0]), ty = Y(p[1]), dx = tx - X(q[0]), dy = ty - Y(q[1]);
      const L = Math.hypot(dx, dy);
      ctx.save(); ctx.strokeStyle = col; ctx.lineWidth = 1.8; ctx.lineCap = 'round';
      arrowHead(ctx, tx, ty, dx / L, dy / L, 5);
      ctx.restore();
    });
    // labels
    rich(ctx, 'CB', X(48), Y(3.25), 15, SERIF, 'bold', 'right', '#2a3a8c');
    rich(ctx, 'ES', X(48), Y(2.6), 15, SERIF, 'bold', 'right', '#2a3a8c');
    rich(ctx, 'VB', X(48), Y(-0.25), 15, SERIF, 'bold', 'right', '#2a3a8c');
    rich(ctx, 'Electronic', X(67), Y(1.68), 11, SANS, 'bold', 'center', '#111');
    rich(ctx, 'bandgap', X(67), Y(1.35), 11, SANS, 'bold', 'center', '#111');
    rich(ctx, '(' + bandgapF.toFixed(2) + ' eV)', X(67), Y(1.0), 11, SANS, 'bold', 'center', '#111');
    rich(ctx, 'Excitonic', X(173), Y(1.38), 11, SANS, 'bold', 'center', '#111');
    rich(ctx, 'gap', X(173), Y(1.05), 11, SANS, 'bold', 'center', '#111');
    rich(ctx, '(' + excitonGapF.toFixed(2) + ' eV)', X(173), Y(0.7), 11, SANS, 'bold', 'center', '#111');
    rich(ctx, 'E_b^x', X(160), Y(2.78), 11, SANS, 'normal', 'left', '#111');
  }
};
new Chart(document.getElementById('cf'), {
  type: 'scatter',
  data: {
    datasets: [
      { data: rainbowPath.map(([a, b]) => ({ x: a, y: b })), showLine: true, borderWidth: 1.8,
        borderColor: '#222', tension: 0.45, pointRadius: 0, clip: false,
        segment: { borderColor: c => rainbowColors[c.p0DataIndex] } },
      { data: relaxPath.map(([a, b]) => ({ x: a, y: b })), showLine: true, borderWidth: 1.6,
        borderColor: '#111', tension: 0.45, pointRadius: 0, clip: false },
      { data: carriers.map(([a, b]) => ({ x: a, y: b })), showLine: false, pointRadius: 4.5,
        pointBackgroundColor: '#050505', pointBorderColor: '#000', clip: false }
    ]
  },
  plugins: [sketchF],
  options: {
    responsive: false,
    layout: { padding: 0 },
    scales: {
      x: { type: 'linear', display: false, min: 0, max: 200 },
      y: { type: 'linear', display: false, min: -0.971, max: 4.382 }
    }
  }
});
</script>
</body>
</html>
